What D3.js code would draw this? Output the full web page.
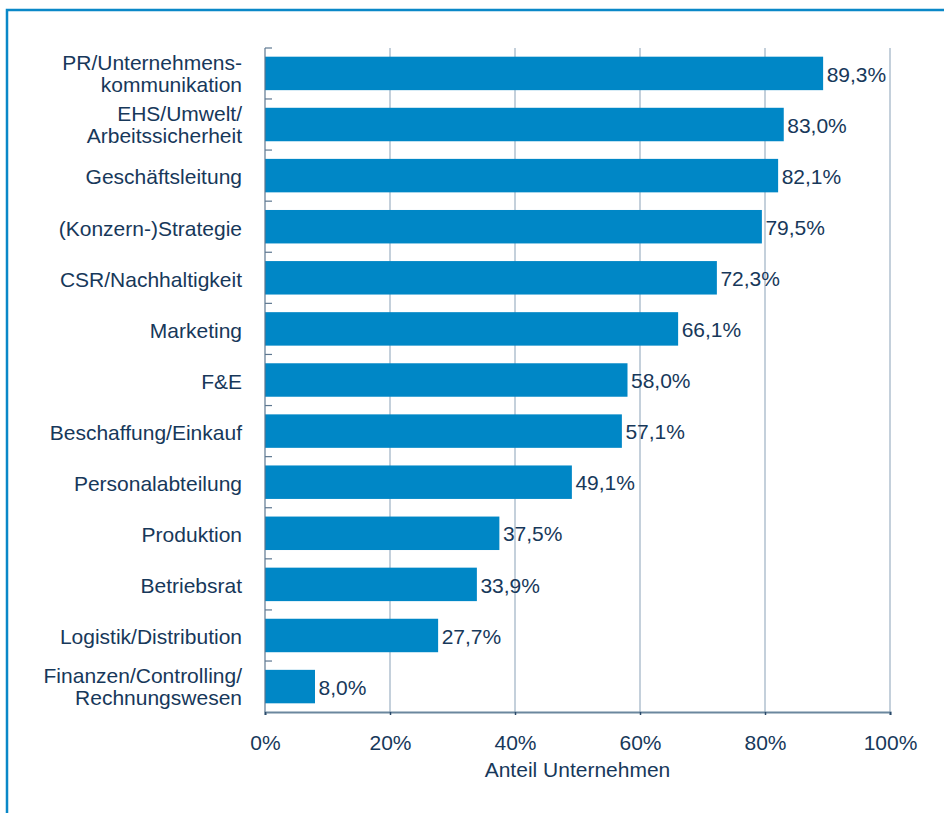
<!DOCTYPE html>
<html>
<head>
<meta charset="utf-8">
<script src="https://cdn.jsdelivr.net/npm/d3@7"></script>
<style>
  body { margin: 0; background: #fff; }
  svg { display: block; font-family: "Liberation Sans", Arial, sans-serif; }
</style>
</head>
<body>
<svg width="944" height="813"></svg>
<script>
// Anteil der Unternehmen je Abteilung
var categories = [
  "PR/Unternehmens-\nkommunikation",
  "EHS/Umwelt/\nArbeitssicherheit",
  "Geschäftsleitung",
  "(Konzern-)Strategie",
  "CSR/Nachhaltigkeit",
  "Marketing",
  "F&E",
  "Beschaffung/Einkauf",
  "Personalabteilung",
  "Produktion",
  "Betriebsrat",
  "Logistik/Distribution",
  "Finanzen/Controlling/\nRechnungswesen"
];
var values = [89.3, 83.0, 82.1, 79.5, 72.3, 66.1, 58.0, 57.1, 49.1, 37.5, 33.9, 27.7, 8.0];
var xTicks = [0, 20, 40, 60, 80, 100];
var xTitle = "Anteil Unternehmen";

var svg = d3.select("svg"),
    width = +svg.attr("width"),
    height = +svg.attr("height");

var textColor = "#17385a",
    barColor = "#0087c6",
    frameColor = "#0a88c8",
    fontSize = "21px";

var margin = {top: 48, right: 54, bottom: 101, left: 265};

var x = d3.scaleLinear()
    .domain([0, 100])
    .range([margin.left, width - margin.right]);

var y = d3.scaleBand()
    .domain(categories)
    .range([margin.top, height - margin.bottom])
    .paddingInner(0.345)
    .paddingOuter(0.17);

var fmt = function(v) { return d3.format(".1f")(v).replace(".", ",") + "%"; };

// frame
svg.append("path")
    .attr("d", d3.line()([[7, height], [7, 10], [width, 10]]))
    .attr("fill", "none")
    .attr("stroke", frameColor)
    .attr("stroke-width", 2.5);

// grid
svg.append("g")
  .selectAll("line")
  .data(xTicks.slice(1))
  .enter().append("line")
    .attr("x1", function(d) { return x(d); })
    .attr("x2", function(d) { return x(d); })
    .attr("y1", margin.top)
    .attr("y2", height - margin.bottom)
    .attr("stroke", "#9db1c3")
    .attr("stroke-width", 1.2);

// bars
svg.append("g")
  .selectAll("rect")
  .data(values)
  .enter().append("rect")
    .attr("x", x(0))
    .attr("y", function(d, i) { return y(categories[i]); })
    .attr("width", function(d) { return x(d) - x(0); })
    .attr("height", y.bandwidth())
    .attr("fill", barColor);

// value labels
svg.append("g")
  .selectAll("text")
  .data(values)
  .enter().append("text")
    .attr("x", function(d) { return x(d) + 3.5; })
    .attr("y", function(d, i) { return y(categories[i]) + y.bandwidth() / 2; })
    .attr("dy", "0.39em")
    .attr("fill", textColor)
    .style("font-size", fontSize)
    .text(fmt);

// y axis line and ticks at band boundaries
var yAxis = svg.append("g");
yAxis.append("line")
    .attr("x1", x(0)).attr("x2", x(0))
    .attr("y1", margin.top).attr("y2", height - margin.bottom)
    .attr("stroke", "#5d7790")
    .attr("stroke-width", 1.2);
var step = y.step();
var bounds = categories.map(function(c) { return y(c) - step * y.paddingInner() / 2; });
bounds[0] = margin.top;
yAxis.selectAll(".tick")
  .data(bounds)
  .enter().append("line")
    .attr("x1", x(0)).attr("x2", x(0) + 7)
    .attr("y1", function(d) { return d; })
    .attr("y2", function(d) { return d; })
    .attr("stroke", "#5d7790")
    .attr("stroke-width", 1.2);

// category labels
var lineH = 22.5;
svg.append("g")
  .selectAll("text")
  .data(categories)
  .enter().append("text")
    .attr("text-anchor", "end")
    .attr("fill", textColor)
    .style("font-size", fontSize)
    .each(function(d) {
      var lines = d.split("\n"),
          cy = y(d) + y.bandwidth() / 2,
          t = d3.select(this);
      lines.forEach(function(l, k) {
        t.append("tspan")
          .attr("x", x(0) - 23)
          .attr("y", cy + (k - (lines.length - 1) / 2) * lineH)
          .attr("dy", lines.length > 1 ? "0.36em" : "0.42em")
          .text(l);
      });
    });

// x axis
var xAxis = svg.append("g")
    .attr("transform", "translate(0," + (height - margin.bottom) + ")")
    .call(d3.axisBottom(x).tickValues(xTicks).tickSize(3).tickPadding(20)
      .tickFormat(function(d) { return d + "%"; }));
xAxis.select(".domain")
    .attr("stroke", "#6b879e")
    .attr("stroke-width", 2.2);
xAxis.selectAll(".tick line").attr("stroke", "#2a4a6a").attr("stroke-width", 1.5);
xAxis.selectAll(".tick text")
    .attr("fill", textColor)
    .style("font-size", fontSize)
    .style("font-family", "\"Liberation Sans\", Arial, sans-serif");

svg.append("text")
    .attr("x", (x(0) + x(100)) / 2)
    .attr("y", height - margin.bottom + 65)
    .attr("text-anchor", "middle")
    .attr("fill", textColor)
    .style("font-size", fontSize)
    .text(xTitle);
</script>
</body>
</html>
